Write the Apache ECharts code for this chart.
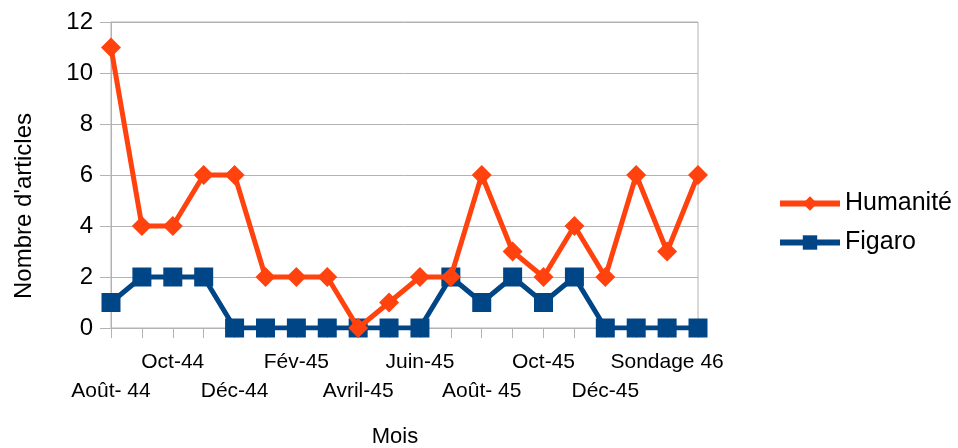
<!DOCTYPE html>
<html>
<head>
<meta charset="utf-8">
<script src="https://cdn.jsdelivr.net/npm/echarts@6/dist/echarts.min.js"></script>
<style>
  html, body { margin: 0; padding: 0; background: #fff; }
  #chart { width: 958px; height: 448px; }
</style>
</head>
<body>
<div id="chart"></div>
<script>
const months = [
    "Août- 44", "Sept-44", "Oct-44", "Nov-44", "Déc-44", "Janv-45", "Fév-45",
    "Mars-45", "Avril-45", "Mai-45", "Juin-45", "Juil-45", "Août- 45", "Sept-45",
    "Oct-45", "Nov-45", "Déc-45", "Janv-46", "Sondage 46", "Fév-46"
];
const humanite = [11, 4, 4, 6, 6, 2, 2, 2, 0, 1, 2, 2, 6, 3, 2, 4, 2, 6, 3, 6];
const figaro = [1, 2, 2, 2, 0, 0, 0, 0, 0, 0, 0, 2, 1, 2, 1, 2, 0, 0, 0, 0];

const font = "Liberation Sans";
const gridColor = "#b3b3b3";

const chart = echarts.init(document.getElementById("chart"));

// labels alternate on two rows: every other month, staggered
const labelBase = {
    fontSize: 21,
    lineHeight: 29,
    color: "#000",
    interval: 0,
    showMinLabel: true,
    showMaxLabel: true,
    hideOverlap: false
};

const option = {
    animation: false,
    textStyle: { fontFamily: font, color: "#000" },
    grid: {
        left: 111, right: 260, top: 22, bottom: 120,
        outerBoundsMode: "none",
        containLabel: false,
        show: true, borderColor: gridColor, borderWidth: 1
    },
    legend: {
        orient: "vertical",
        left: 777,
        top: 191,
        padding: 0,
        itemWidth: 60,
        itemHeight: 18,
        itemGap: 14,
        lineStyle: { width: 6 },
        textStyle: { fontFamily: font, fontSize: 25, color: "#000" },
        data: ["Humanité", "Figaro"]
    },
    xAxis: [
        {
            type: "category",
            data: months,
            boundaryGap: false,
            name: "Mois",
            nameLocation: "middle",
            nameGap: 98,
            nameTextStyle: { fontSize: 22, color: "#000", padding: [0, 19, 0, 0] },
            axisLine: { lineStyle: { color: gridColor, width: 1 } },
            axisTick: { show: true, length: 10, interval: 0, lineStyle: { color: gridColor } },
            axisLabel: Object.assign({}, labelBase, {
                margin: 20,
                formatter: (value, index) => (index % 4 === 2 ? value : "")
            }),
            splitLine: { show: false }
        },
        {
            type: "category",
            data: months,
            boundaryGap: false,
            position: "bottom",
            axisLine: { show: false },
            axisTick: { show: false },
            axisLabel: Object.assign({}, labelBase, {
                margin: 49,
                formatter: (value, index) => (index % 4 === 0 ? value : "")
            }),
            splitLine: { show: false }
        }
    ],
    yAxis: {
        type: "value",
        min: 0,
        max: 12,
        interval: 2,
        name: "Nombre d'articles",
        nameLocation: "middle",
        nameGap: 75,
        nameTextStyle: { fontSize: 24, color: "#000", padding: [0, 62, 0, 0] },
        axisLine: { show: true, lineStyle: { color: gridColor, width: 1 } },
        axisTick: { show: true, length: 11, lineStyle: { color: gridColor } },
        axisLabel: { fontSize: 24, margin: 18, color: "#000" },
        splitLine: { lineStyle: { color: gridColor, width: 1 } }
    },
    series: [
        {
            name: "Humanité",
            type: "line",
            data: humanite,
            z: 4,
            color: "#ff420e",
            symbol: "diamond",
            symbolSize: 20,
            showAllSymbol: true,
            lineStyle: { width: 5 },
            itemStyle: { color: "#ff420e" }
        },
        {
            name: "Figaro",
            type: "line",
            data: figaro,
            z: 3,
            color: "#004586",
            symbol: "rect",
            symbolSize: 19,
            showAllSymbol: true,
            lineStyle: { width: 5 },
            itemStyle: { color: "#004586" }
        }
    ]
};

chart.setOption(option);
</script>
</body>
</html>
